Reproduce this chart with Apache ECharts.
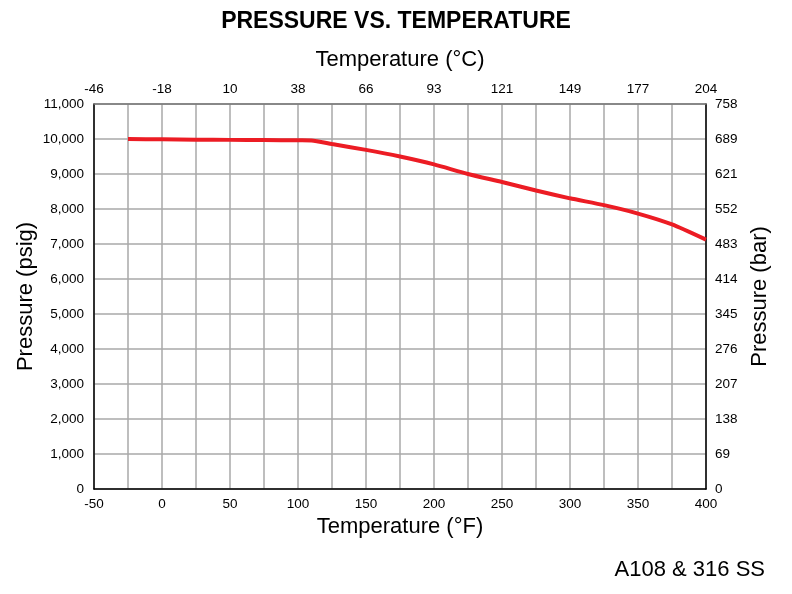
<!DOCTYPE html>
<html>
<head>
<meta charset="utf-8">
<script src="https://cdn.jsdelivr.net/npm/echarts@6/dist/echarts.min.js"></script>
<style>html,body{margin:0;padding:0;background:#fff}#c{width:792px;height:594px}</style>
</head>
<body>
<div id="c"></div>
<script>
// Data (temperature °F, pressure psig)
const tempF = [-25, 0, 25, 50, 75, 100, 110, 125, 150, 175, 200, 225, 250, 275, 300, 325, 350, 375, 400];
const pressurePsig = [10000, 9990, 9980, 9975, 9970, 9962, 9960, 9855, 9690, 9500, 9275, 9000, 8770, 8530, 8305, 8110, 7870, 7560, 7125];
// Tick labels
const celsiusLabels = ['-46', '-18', '10', '38', '66', '93', '121', '149', '177', '204'];
const barLabels = ['0', '69', '138', '207', '276', '345', '414', '483', '552', '621', '689', '758'];

const FONT = 'Liberation Sans, Arial, Helvetica, sans-serif';
const chart = echarts.init(document.getElementById('c'), null, {renderer: 'canvas'});
const gridColor = '#a8a8a8';
const fmtF = v => (v % 50 === 0 ? String(v) : '');
const fmtC = v => (v % 50 === 0 ? celsiusLabels[(v + 50) / 50] : '');
const fmtPsi = v => v.toLocaleString('en-US');
const fmtBar = v => barLabels[Math.round(v / 1000)];
const nameStyle = {fontFamily: FONT, fontSize: 22, color: '#000'};
const tickStyle = {fontFamily: FONT, fontSize: 13.5, color: '#000'};

chart.setOption({
  animation: false,
  backgroundColor: '#fff',
  title: {
    text: 'PRESSURE VS. TEMPERATURE',
    left: 'center', top: 5,
    textStyle: {fontFamily: FONT, fontSize: 23, fontWeight: 'bold', color: '#000'}
  },
  graphic: [{
    type: 'text', right: 27, top: 559,
    style: {text: 'A108 & 316 SS', font: '22px ' + FONT, fill: '#000'}
  }],
  grid: {left: 94, right: 86, top: 104, bottom: 105, containLabel: false},
  xAxis: [{
    type: 'value', position: 'bottom', min: -50, max: 400, interval: 25,
    name: 'Temperature (°F)', nameLocation: 'middle', nameGap: 27, nameMoveOverlap: false,
    nameTextStyle: nameStyle,
    axisLine: {show: true, onZero: false, lineStyle: {color: '#000', width: 1.5}},
    axisTick: {show: false},
    axisLabel: Object.assign({formatter: fmtF, margin: 8, showMinLabel: true, showMaxLabel: true}, tickStyle),
    splitLine: {show: true, lineStyle: {color: gridColor, width: 1.5}}
  }, {
    type: 'value', position: 'top', min: -50, max: 400, interval: 25,
    name: 'Temperature (°C)', nameLocation: 'middle', nameGap: 33, nameMoveOverlap: false,
    nameTextStyle: nameStyle,
    axisLine: {show: true, onZero: false, lineStyle: {color: '#777', width: 1.5}},
    axisTick: {show: false},
    axisLabel: Object.assign({formatter: fmtC, margin: 8, showMinLabel: true, showMaxLabel: true}, tickStyle),
    splitLine: {show: false}
  }],
  yAxis: [{
    type: 'value', position: 'left', min: 0, max: 11000, interval: 1000,
    name: 'Pressure (psig)', nameLocation: 'middle', nameGap: 57, nameMoveOverlap: false,
    nameTextStyle: nameStyle,
    axisLine: {show: true, onZero: false, lineStyle: {color: '#000', width: 1.5}},
    axisTick: {show: false},
    axisLabel: Object.assign({formatter: fmtPsi, margin: 10}, tickStyle),
    splitLine: {show: true, lineStyle: {color: gridColor, width: 1.5}}
  }, {
    type: 'value', position: 'right', min: 0, max: 11000, interval: 1000,
    name: 'Pressure (bar)', nameLocation: 'middle', nameGap: 43, nameMoveOverlap: false,
    nameTextStyle: nameStyle,
    axisLine: {show: true, onZero: false, lineStyle: {color: '#000', width: 1.5}},
    axisTick: {show: false},
    axisLabel: Object.assign({formatter: fmtBar, margin: 9}, tickStyle),
    splitLine: {show: false}
  }],
  series: [{
    type: 'line', xAxisIndex: 0, yAxisIndex: 0,
    data: tempF.map((t, i) => [t, pressurePsig[i]]),
    showSymbol: false, smooth: 0.2,
    lineStyle: {color: '#ec1c24', width: 4},
    z: 5
  }]
});
</script>
</body>
</html>
